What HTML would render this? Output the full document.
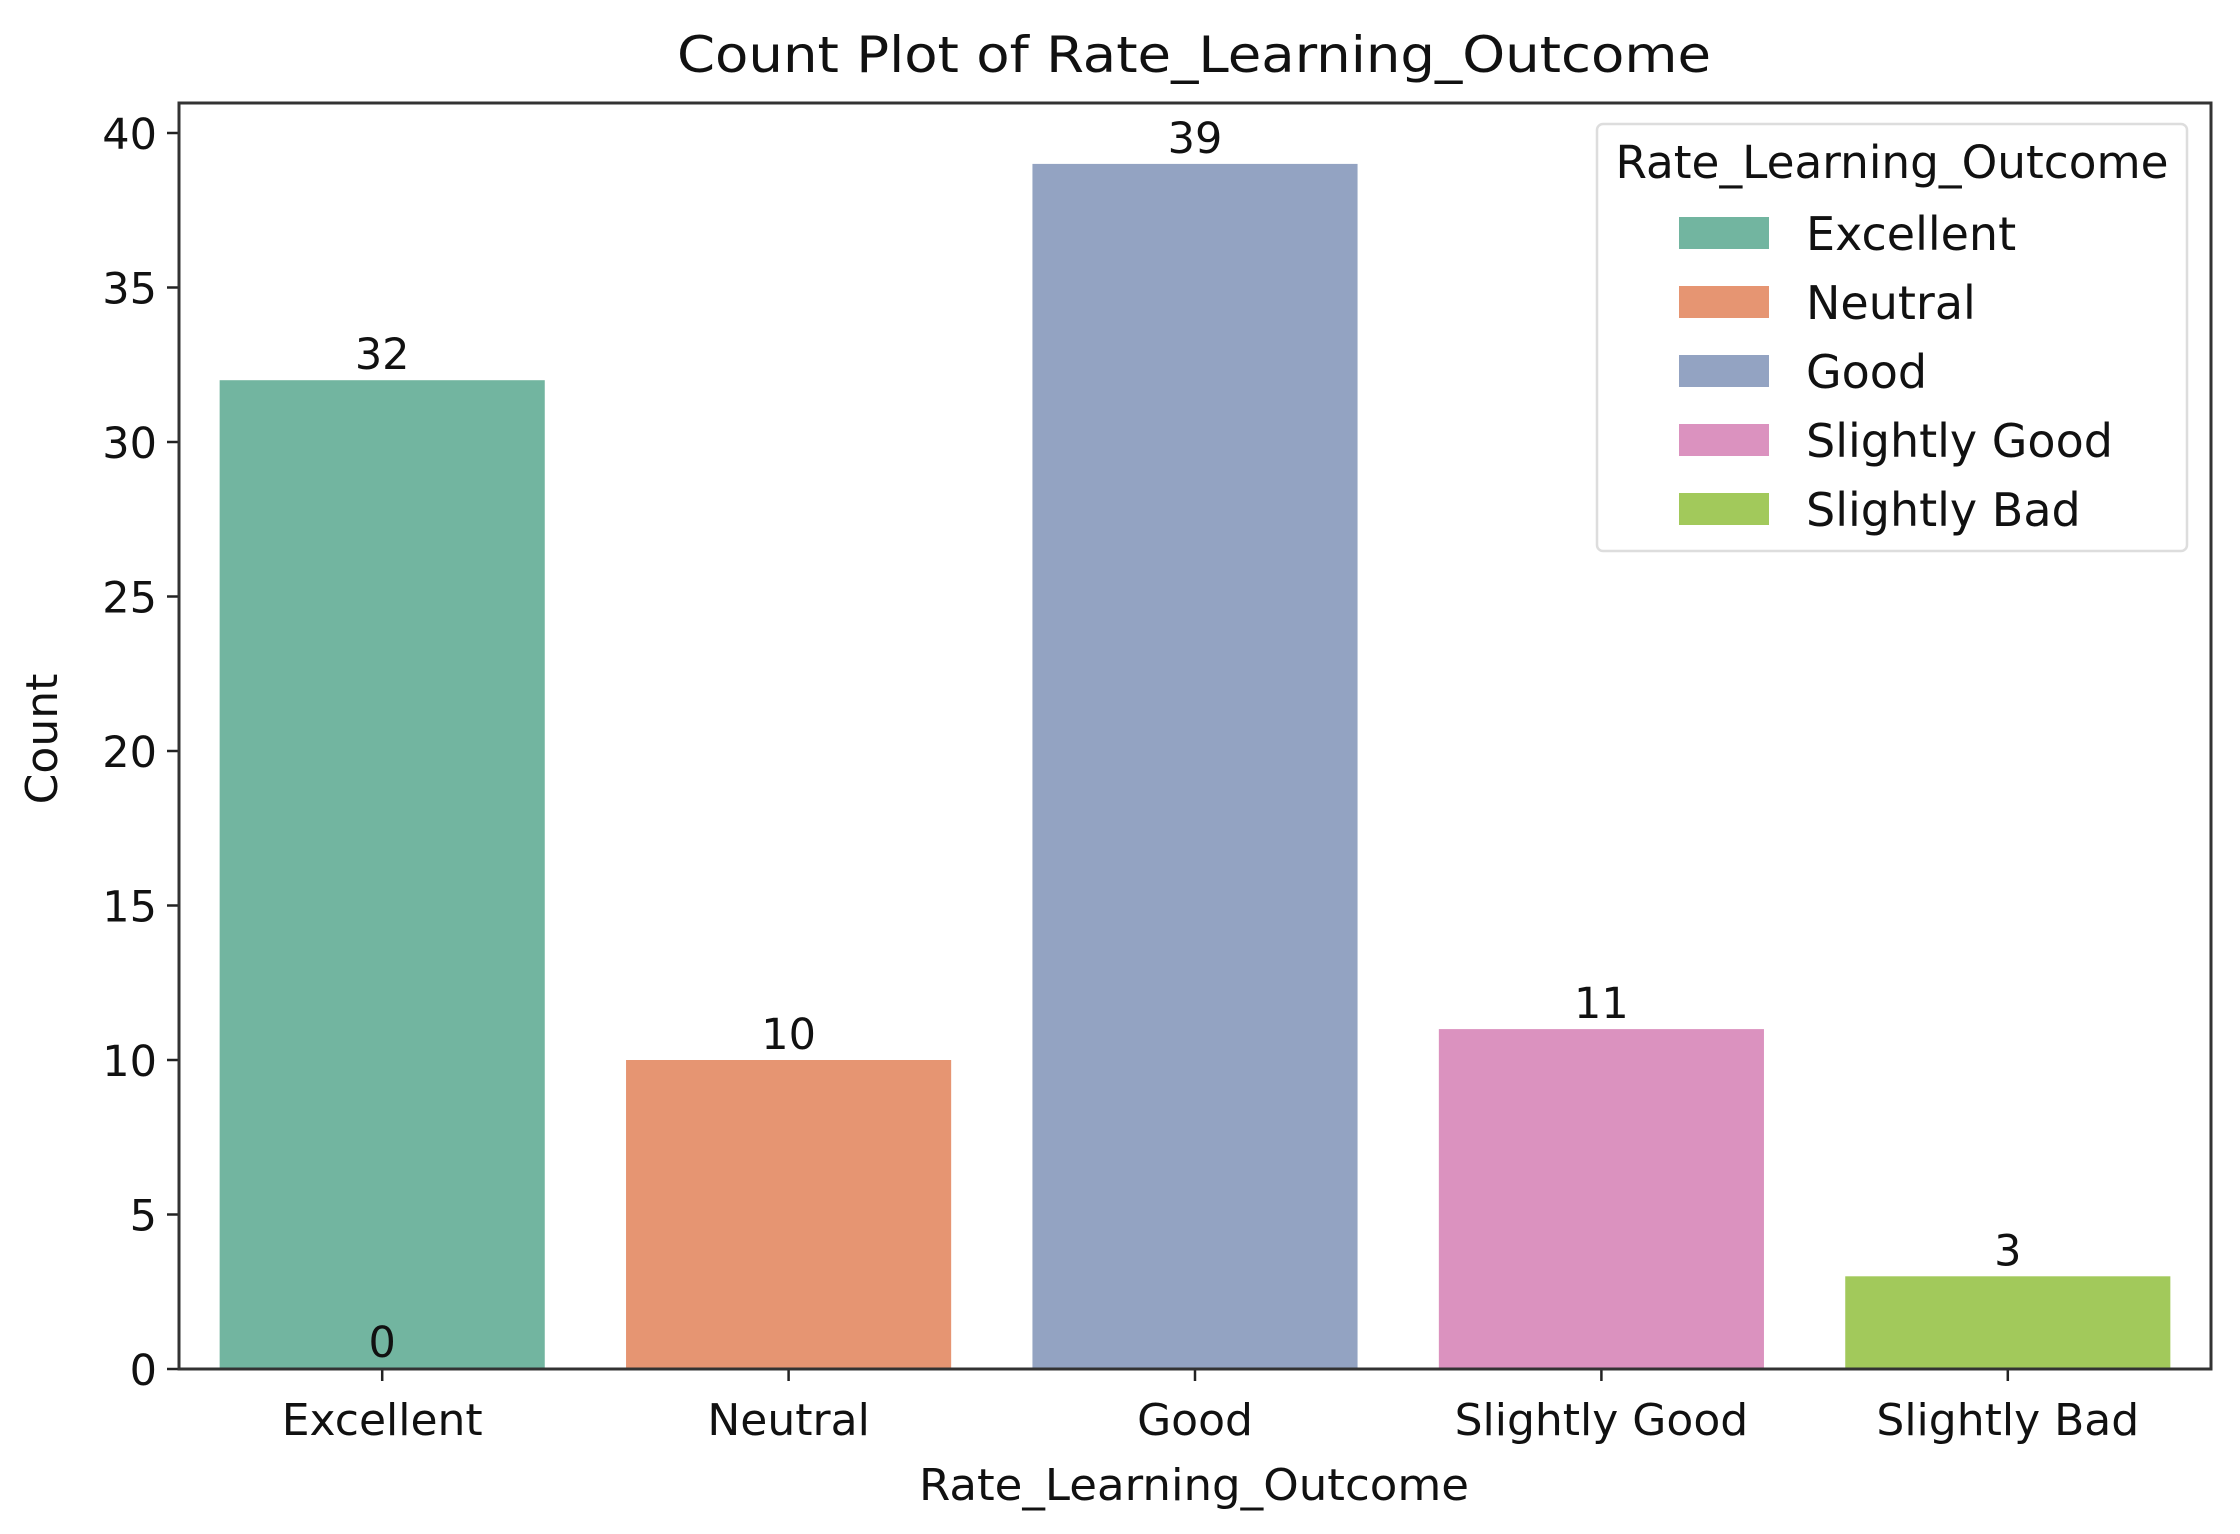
<!DOCTYPE html>
<html><head><meta charset="utf-8"><style>
html,body{margin:0;padding:0;background:#fff;}
svg{display:block;font-family:"DejaVu Sans","Liberation Sans",sans-serif;}
</style></head><body>
<svg id="chart" width="2240" height="1534" viewBox="0 0 2240 1534" xmlns="http://www.w3.org/2000/svg">
<rect width="2240" height="1534" fill="#fff"/>
<text x="1194" y="72" font-size="50" text-anchor="middle" fill="#111" textLength="1034" lengthAdjust="spacingAndGlyphs">Count Plot of Rate_Learning_Outcome</text>
<g id="plot"></g>
<text x="1194" y="1500" font-size="44" text-anchor="middle" fill="#111" textLength="550" lengthAdjust="spacingAndGlyphs">Rate_Learning_Outcome</text>
<text transform="translate(57,739) rotate(-90)" font-size="44" text-anchor="middle" fill="#111">Count</text>
</svg>
<script>
const categories = ["Excellent","Neutral","Good","Slightly Good","Slightly Bad"];
const counts = [32,10,39,11,3];
const colors = ["#72b5a0","#e69572","#93a3c2","#db92bf","#a2c95b"];
const yTicks = [0,5,10,15,20,25,30,35,40];

const L=179,R=2211,T=103,B=1369;
const bandW=(R-L)/categories.length;
const xC=i=>L+bandW*(i+0.5);
const y=v=>B-v*30.9;
const NS="http://www.w3.org/2000/svg";
const g=document.getElementById('plot');
function mk(tag,attrs,text){const e=document.createElementNS(NS,tag);for(const k in attrs)e.setAttribute(k,attrs[k]);if(text!==undefined)e.textContent=text;g.appendChild(e);return e;}

categories.forEach((c,i)=>{
  const w=bandW*0.8;
  const r=mk('rect',{x:xC(i)-w/2,y:y(counts[i]),width:w,height:B-y(counts[i]),fill:colors[i]});
  
  
  const t=mk('text',{x:xC(i),y:y(counts[i])-11,'font-size':43,'text-anchor':'middle',fill:'#111'},String(counts[i]));
  
  
  const tk=mk('line',{x1:xC(i),x2:xC(i),y1:B,y2:B+12,stroke:'#222','stroke-width':2.5});
  
  
  const tl=mk('text',{x:xC(i),y:B+66,'font-size':44,'text-anchor':'middle',fill:'#111'},c);
  
  
});
const z=mk('text',{x:xC(0),y:B-12,'font-size':43,'text-anchor':'middle',fill:'#111'},"0");



yTicks.forEach(v=>{
  const l=mk('line',{x1:L-12,x2:L,y1:y(v),y2:y(v),stroke:'#222','stroke-width':2.5});
  
  
  const t=mk('text',{x:L-22,y:y(v)+16,'font-size':43,'text-anchor':'end',fill:'#111'},String(v));
  
  
});
const fr=mk('rect',{x:L,y:T,width:R-L,height:B-T,fill:'none',stroke:'#333','stroke-width':3});



const lg=mk('rect',{x:1597,y:124,width:590,height:427,rx:6,fill:'#fff',stroke:'#ddd','stroke-width':2.5});


const lt=mk('text',{x:1892,y:178,'font-size':45,'text-anchor':'middle',fill:'#111',textLength:553,lengthAdjust:'spacingAndGlyphs'},"Rate_Learning_Outcome");


categories.forEach((c,i)=>{
  const cy=233+i*69;
  const p=mk('rect',{x:1679,y:cy-16,width:90,height:32,fill:colors[i]});
  
  
  const t=mk('text',{x:1806,y:cy+17,'font-size':46,fill:'#111'},c);
  
  
});
</script>
</body></html>
